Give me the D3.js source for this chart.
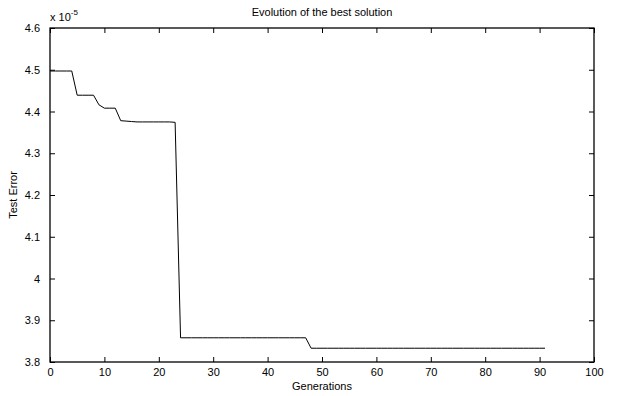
<!DOCTYPE html>
<html>
<head>
<meta charset="utf-8">
<script src="https://cdn.jsdelivr.net/npm/d3@7"></script>
<style>
  body { margin: 0; background: #fff; }
  text { font-family: "Liberation Sans", Arial, sans-serif; fill: #000; }
</style>
</head>
<body>
<div id="chart"></div>
<script>
// best test error per generation (x 1e-5)
const generations = [
  0, 1, 2, 3, 4, 5, 6, 7, 8, 9,
  10, 11, 12, 13, 14, 15, 16, 17, 18, 19,
  20, 21, 22, 23, 24, 25, 26, 27, 28, 29,
  30, 31, 32, 33, 34, 35, 36, 37, 38, 39,
  40, 41, 42, 43, 44, 45, 46, 47, 48, 49,
  50, 51, 52, 53, 54, 55, 56, 57, 58, 59,
  60, 61, 62, 63, 64, 65, 66, 67, 68, 69,
  70, 71, 72, 73, 74, 75, 76, 77, 78, 79,
  80, 81, 82, 83, 84, 85, 86, 87, 88, 89,
  90, 91
];
const testError = [
  4.497, 4.497, 4.497, 4.497, 4.497, 4.439, 4.439, 4.439, 4.439, 4.416,
  4.408, 4.408, 4.408, 4.378, 4.377, 4.376, 4.375, 4.375, 4.375, 4.375,
  4.375, 4.375, 4.375, 4.374, 3.858, 3.858, 3.858, 3.858, 3.858, 3.858,
  3.858, 3.858, 3.858, 3.858, 3.858, 3.858, 3.858, 3.858, 3.858, 3.858,
  3.858, 3.858, 3.858, 3.858, 3.858, 3.858, 3.858, 3.858, 3.833, 3.833,
  3.833, 3.833, 3.833, 3.833, 3.833, 3.833, 3.833, 3.833, 3.833, 3.833,
  3.833, 3.833, 3.833, 3.833, 3.833, 3.833, 3.833, 3.833, 3.833, 3.833,
  3.833, 3.833, 3.833, 3.833, 3.833, 3.833, 3.833, 3.833, 3.833, 3.833,
  3.833, 3.833, 3.833, 3.833, 3.833, 3.833, 3.833, 3.833, 3.833, 3.833,
  3.833, 3.833
];
const xTicks = [0, 10, 20, 30, 40, 50, 60, 70, 80, 90, 100];
const yTicks = [3.8, 3.9, 4.0, 4.1, 4.2, 4.3, 4.4, 4.5, 4.6];

const width = 619, height = 396;
const margin = {top: 28, right: 25, bottom: 34, left: 50};
const w = width - margin.left - margin.right;
const h = height - margin.top - margin.bottom;

const svg = d3.select('#chart').append('svg')
  .attr('width', width)
  .attr('height', height);

const g = svg.append('g')
  .attr('transform', `translate(${margin.left},${margin.top})`);

const x = d3.scaleLinear().domain([0, 100]).range([0, w]);
const y = d3.scaleLinear().domain([3.8, 4.6]).range([h, 0]);

const tickLen = 5;
const fmtY = d => d3.format('~g')(d);

// bottom & top axes (ticks inward)
g.append('g')
  .attr('transform', `translate(0,${h})`)
  .call(d3.axisBottom(x).tickValues(xTicks).tickSizeInner(-tickLen).tickSizeOuter(0).tickPadding(6))
  .call(a => a.select('.domain').remove());
g.append('g')
  .call(d3.axisTop(x).tickValues(xTicks).tickSizeInner(-tickLen).tickSizeOuter(0).tickFormat(''))
  .call(a => a.select('.domain').remove());
g.append('g')
  .call(d3.axisLeft(y).tickValues(yTicks).tickSizeInner(-tickLen).tickSizeOuter(0).tickPadding(10).tickFormat(fmtY))
  .call(a => a.select('.domain').remove());
g.append('g')
  .attr('transform', `translate(${w},0)`)
  .call(d3.axisRight(y).tickValues(yTicks).tickSizeInner(-tickLen).tickSizeOuter(0).tickFormat(''))
  .call(a => a.select('.domain').remove());

g.selectAll('.tick text')
  .style('font-size', '11px')
  .style('font-family', '"Liberation Sans", Arial, sans-serif');
g.selectAll('.tick line').attr('stroke', '#000');

// frame
g.append('rect')
  .attr('width', w).attr('height', h)
  .attr('fill', 'none')
  .attr('stroke', '#000')
  .attr('stroke-width', 1.3);

// line
const pts = generations.map((d, i) => [d, testError[i]]);
g.append('path')
  .datum(pts)
  .attr('fill', 'none')
  .attr('stroke', '#000')
  .attr('stroke-width', 1)
  .attr('d', d3.line().x(d => x(d[0])).y(d => y(d[1])));

// labels
svg.append('text')
  .attr('x', margin.left + w / 2).attr('y', 16)
  .attr('text-anchor', 'middle')
  .style('font-size', '11px')
  .text('Evolution of the best solution');

svg.append('text')
  .attr('x', margin.left + w / 2).attr('y', 390)
  .attr('text-anchor', 'middle')
  .style('font-size', '11px')
  .text('Generations');

svg.append('text')
  .attr('transform', `translate(17,${margin.top + h / 2}) rotate(-90)`)
  .attr('text-anchor', 'middle')
  .style('font-size', '11px')
  .text('Test Error');

const mult = svg.append('text')
  .attr('x', 50).attr('y', 21)
  .style('font-size', '11px');
mult.append('tspan').text('x 10');
mult.append('tspan').attr('dy', -6).style('font-size', '8px').text('-5');
</script>
</body>
</html>
